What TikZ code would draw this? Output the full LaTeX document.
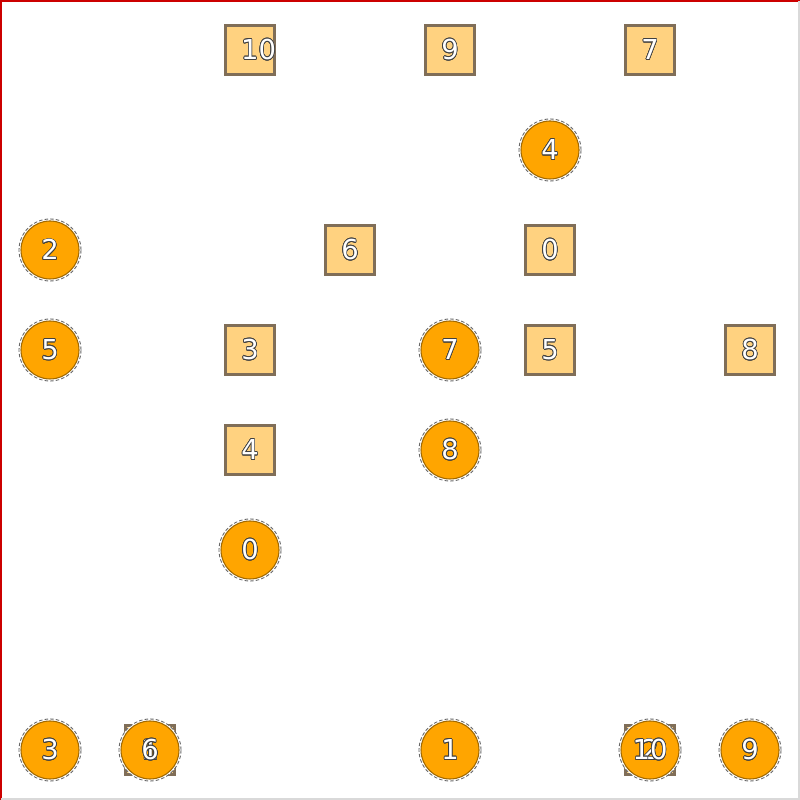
\documentclass[tikz,border=0pt]{standalone}
\usepackage{fontspec}
\setmainfont{DejaVu Sans}
\usepackage{contour}
\contourlength{0.2pt}
\definecolor{sqfill}{HTML}{FFD280}
\definecolor{sqline}{HTML}{806E58}
\definecolor{dotfill}{HTML}{FFA500}
\definecolor{dotline}{HTML}{A06800}
\begin{document}
\begin{tikzpicture}[
  sq/.style={rectangle,minimum size=0.49cm,inner sep=0pt,fill=sqfill,draw=sqline,line width=0.6pt},
  dot/.style={circle,minimum size=0.62cm,inner sep=0pt,fill=white,draw=black!60,dash pattern=on 1pt off 0.6pt,line width=0.25pt,
    path picture={\draw[solid,dotline,fill=dotfill,line width=0.3pt] (path picture bounding box.center) circle (0.29cm);}},
  lbl/.style={inner sep=0pt,font=\fontsize{7.8}{9}\selectfont}
]
\useasboundingbox (0,0) rectangle (8,8);
\draw[red!80!black,line width=0.4pt] (0.01,0) -- (0.01,7.99) -- (8,7.99);
\draw[black!15,line width=0.4pt] (0.01,0.01) -- (7.99,0.01) -- (7.99,7.99);
% squares
\foreach \n/\x/\y in {10/2.5/7.5,9/4.5/7.5,7/6.5/7.5,6/3.5/5.5,0/5.5/5.5,3/2.5/4.5,5/5.5/4.5,8/7.5/4.5,4/2.5/3.5,1/1.5/0.5,2/6.5/0.5}
  \node[sq] (s\n) at (\x,\y) {};
% circles
\foreach \n/\x/\y in {4/5.5/6.5,2/0.5/5.5,5/0.5/4.5,7/4.5/4.5,8/4.5/3.5,0/2.5/2.5,3/0.5/0.5,6/1.5/0.5,1/4.5/0.5,10/6.5/0.5,9/7.5/0.5}
  \node[dot] (c\n) at (\x,\y) {};
% labels on top
\foreach \n in {9,7,6,0,3,5,8,4,1,2}
  \node[lbl] at (s\n) {\contour{black!75}{\textcolor{white}{\n}}};
\node[lbl,xshift=0.085cm] at (s10) {\contour{black!75}{\textcolor{white}{10}}};
\foreach \n in {4,2,5,7,8,0,3,6,1,10,9}
  \node[lbl] at (c\n) {\contour{black!75}{\textcolor{white}{\n}}};
\end{tikzpicture}
\end{document}
